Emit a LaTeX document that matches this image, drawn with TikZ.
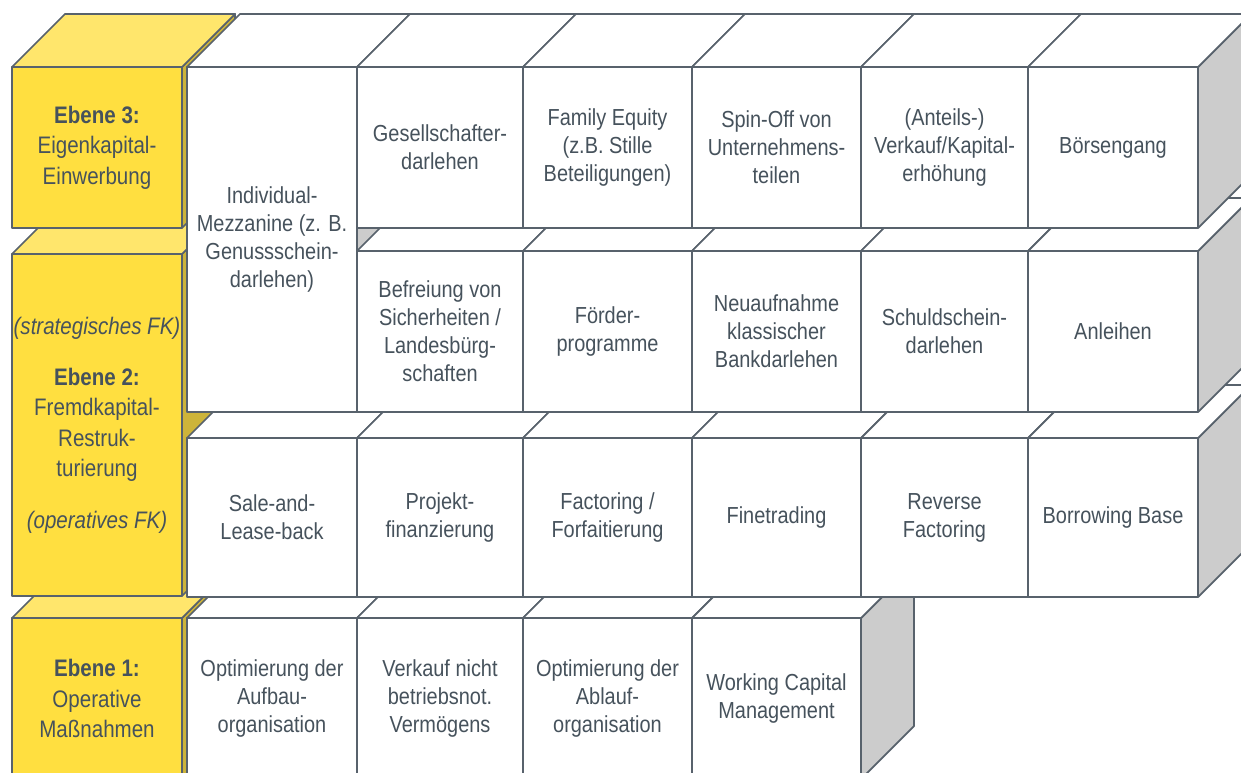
\documentclass[tikz,border=0pt]{standalone}
\usepackage{fontspec}
\setmainfont{Liberation Sans}[FakeStretch=0.86]
\usepackage{xcolor}
\usepackage{tikz}
\definecolor{kantengrau}{RGB}{88,98,108}
\definecolor{schriftgrau}{RGB}{70,82,92}
\definecolor{ebenegelb}{RGB}{255,223,64}
\definecolor{ebenegelbhell}{RGB}{255,230,108}
\definecolor{ebenegelbdunkel}{RGB}{205,180,58}
\definecolor{seitengrau}{RGB}{204,204,204}

% Tiefe der Quader (Versatz nach rechts oben)
\newcommand{\tiefe}{53}
% #1 Name, #2 Farbschema, #3 links, #4 oben, #5 rechts, #6 unten, #7 Text
\newcommand{\quader}[7]{%
  \path[#2 seite] (#5,#4) -- ++(\tiefe,-\tiefe) -- ++(0,{#6-#4}) -- ++(-\tiefe,\tiefe) -- cycle;
  \path[#2 deckel] (#3,#4) -- ++(\tiefe,-\tiefe) -- ++({#5-#3},0) -- ++(-\tiefe,\tiefe) -- cycle;
  \node[#2 front, minimum width={(#5-#3)*0.02cm}, minimum height={(#6-#4)*0.02cm}] (#1) at ({(#3+#5)/2},{(#4+#6)/2}) {#7};
}

\begin{document}
\begin{tikzpicture}[
    x=0.02cm, y=-0.02cm,
    kante/.style={draw=kantengrau, line width=1pt, line join=round},
    gelb front/.style={kante, fill=ebenegelb, text=schriftgrau, font=\fontsize{13.6}{17.3}\selectfont, align=center, inner sep=0pt},
    gelb deckel/.style={kante, fill=ebenegelbhell},
    gelb seite/.style={kante, fill=ebenegelbdunkel},
    weiss front/.style={kante, fill=white, text=schriftgrau, font=\fontsize{13.2}{15.9}\selectfont, align=center, inner sep=0pt},
    weiss deckel/.style={kante, fill=white},
    weiss seite/.style={kante, fill=seitengrau}
]
    \useasboundingbox (0,0) rectangle (1241,773);
    \clip (0,0) rectangle (1241,773);

    % Ebenen (von unten nach oben)
    \quader{ebeneeins}{gelb}{12}{618}{182}{779}{\textbf{Ebene 1:}\\Operative\\Maßnahmen}
    \quader{ebenezwei}{gelb}{12}{254}{182}{596}{\textit{(strategisches FK)}\\[12pt]\textbf{Ebene 2:}\\Fremdkapital-\\Restruk-\\turierung\\[12pt]\textit{(operatives FK)}}
    \quader{ebenedrei}{gelb}{12}{67}{182}{228}{\textbf{Ebene 3:}\\Eigenkapital-\\Einwerbung}

    % Ebene 1
    \quader{aufbau}{weiss}{187}{618}{357}{779}{Optimierung der\\Aufbau-\\organisation}
    \quader{verkauf}{weiss}{357}{618}{523}{779}{Verkauf nicht\\betriebsnot.\\Vermögens}
    \quader{ablauf}{weiss}{523}{618}{692}{779}{Optimierung der\\Ablauf-\\organisation}
    \quader{workcap}{weiss}{692}{618}{861}{779}{Working Capital\\Management}

    % Ebene 2, operatives FK
    \quader{sale}{weiss}{187}{438}{357}{597}{Sale-and-\\Lease-back}
    \quader{projekt}{weiss}{357}{438}{523}{597}{Projekt-\\finanzierung}
    \quader{factoring}{weiss}{523}{438}{692}{597}{Factoring /\\Forfaitierung}
    \quader{finetrading}{weiss}{692}{438}{861}{597}{Finetrading}
    \quader{reverse}{weiss}{861}{438}{1028}{597}{Reverse\\Factoring}
    \quader{borrowing}{weiss}{1028}{438}{1198}{597}{Borrowing Base}

    % Mezzanine ueber zwei Ebenen
    \quader{mezzanine}{weiss}{187}{67}{357}{412}{Individual-\\Mezzanine (z. B.\\Genussschein-\\darlehen)}

    % Ebene 2, strategisches FK
    \quader{befreiung}{weiss}{357}{251}{523}{412}{Befreiung von\\Sicherheiten /\\Landesbürg-\\schaften}
    \quader{foerder}{weiss}{523}{251}{692}{412}{Förder-\\programme}
    \quader{neuaufnahme}{weiss}{692}{251}{861}{412}{Neuaufnahme\\klassischer\\Bankdarlehen}
    \quader{schuldschein}{weiss}{861}{251}{1028}{412}{Schuldschein-\\darlehen}
    \quader{anleihen}{weiss}{1028}{251}{1198}{412}{Anleihen}

    % Ebene 3
    \quader{gesellschafter}{weiss}{357}{67}{523}{228}{Gesellschafter-\\darlehen}
    \quader{familyequity}{weiss}{523}{67}{692}{228}{Family Equity\\(z.B. Stille\\Beteiligungen)}
    \quader{spinoff}{weiss}{692}{67}{861}{228}{Spin-Off von\\Unternehmens-\\teilen}
    \quader{anteile}{weiss}{861}{67}{1028}{228}{(Anteils-)\\Verkauf/Kapital-\\erhöhung}
    \quader{boerse}{weiss}{1028}{67}{1198}{228}{Börsengang}
\end{tikzpicture}
\end{document}
